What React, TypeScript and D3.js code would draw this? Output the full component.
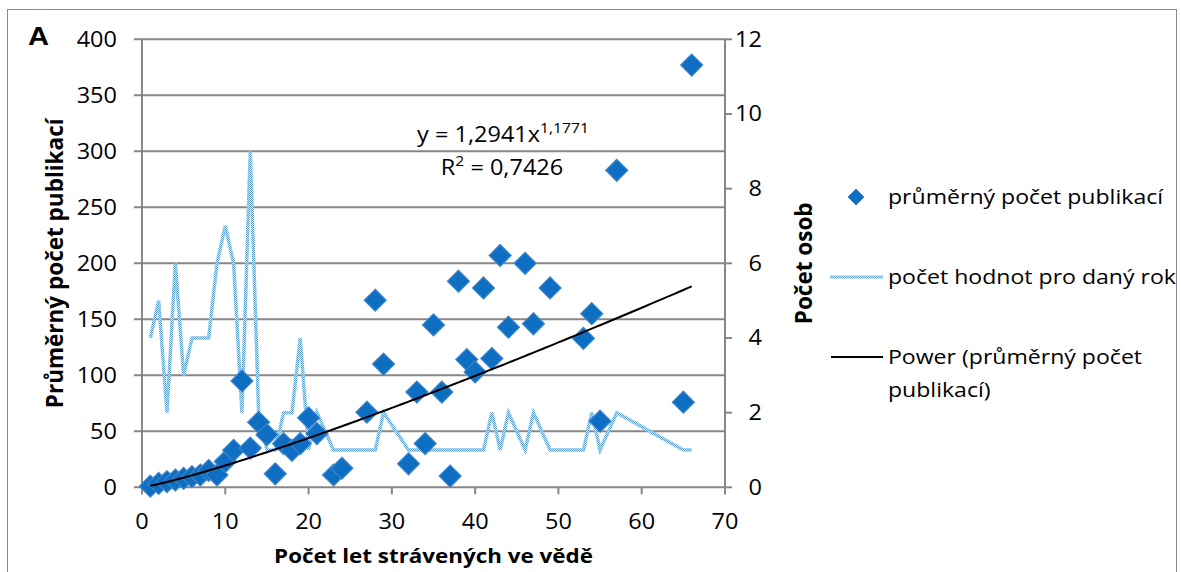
import React from 'react';
import * as d3 from 'd3';

const WIDTH = 1181;
const HEIGHT = 572;

// plot area in pixels
const PLOT = { left: 142, right: 725, top: 39.3, bottom: 487.3 };

const FONT = "'Open Sans', 'Noto Sans', sans-serif";
const FS = 21;
const STRETCH = 1.12; // the original picture is a little wider than tall

// years spent in science
const years = [
  1, 2, 3, 4, 5, 6, 7, 8, 9, 10, 11, 12, 13, 14, 15, 16, 17, 18, 19, 20, 21, 23, 24, 27,
  28, 29, 32, 33, 34, 35, 36, 37, 38, 39, 40, 41, 42, 43, 44, 46, 47, 49, 53, 54, 55, 57, 65, 66,
];

// mean number of publications (left axis)
const publications = [
  1, 3.5, 5, 6.5, 8, 9.5, 11, 15, 11, 23, 33, 95, 35, 58, 47, 12, 39, 33, 39, 62, 48, 11, 17, 67,
  167, 110, 21, 85, 39, 145, 85, 10, 184, 114, 103, 178, 115, 207, 143, 200, 146, 178, 133, 155, 59, 283, 76, 377,
];

// number of persons for the year (right axis)
const persons = [
  4, 5, 2, 6, 3, 4, 4, 4, 6, 7, 6, 2, 9, 2, 1, 1, 2, 2, 4, 1, 2, 1, 1, 1,
  1, 2, 1, 1, 1, 1, 1, 1, 1, 1, 1, 1, 2, 1, 2, 1, 2, 1, 1, 2, 1, 2, 1, 1,
];

const xTicks = [0, 10, 20, 30, 40, 50, 60, 70];
const leftTicks = [0, 50, 100, 150, 200, 250, 300, 350, 400];
const rightTicks = [0, 2, 4, 6, 8, 10, 12];

// power trendline fitted in the original
const POWER_A = 1.2941;
const POWER_B = 1.1771;

const GRID = '#878787';
const BLUE = '#0E6EC1';

const diamond = (cx: number, cy: number, r: number) =>
  `M${cx},${cy - r}L${cx + r},${cy}L${cx},${cy + r}L${cx - r},${cy}Z`;

// horizontal text, widened like the source image
const T = ({ x, y, anchor = 'start', bold = false, size = FS, mid = true, children }: any) => (
  <text
    transform={`translate(${x},${y}) scale(${STRETCH},1)`}
    textAnchor={anchor}
    dy={mid ? '0.35em' : undefined}
    fontSize={size}
    fontWeight={bold ? 'bold' : undefined}
  >
    {children}
  </text>
);

export default function App() {
  const x = d3.scaleLinear().domain([0, 70]).range([PLOT.left, PLOT.right]);
  const y = d3.scaleLinear().domain([0, 400]).range([PLOT.bottom, PLOT.top]);
  const yR = d3.scaleLinear().domain([0, 12]).range([PLOT.bottom, PLOT.top]);

  const points = years.map((yr, i) => ({ yr, pub: publications[i], n: persons[i] }));

  const countLine = d3.line<{ yr: number; n: number }>()
    .x(d => x(d.yr))
    .y(d => yR(d.n));

  const trend = d3.range(1, 66.001, 0.5).map(v => [v, POWER_A * Math.pow(v, POWER_B)]);
  const trendLine = d3.line<number[]>()
    .x(d => x(d[0]))
    .y(d => y(d[1]));

  const midY = (PLOT.top + PLOT.bottom) / 2;

  return (
    <svg width={WIDTH} height={HEIGHT} style={{ position: 'absolute', left: 0, top: 0 }} fontFamily={FONT}>
      <defs>
        <pattern id="dots" width="2" height="2" patternUnits="userSpaceOnUse">
          <rect width="2" height="2" fill="#DCEBF8" />
          <rect width="1" height="1" fill="#5A9BDB" />
          <rect x="1" y="1" width="1" height="1" fill="#5A9BDB" />
        </pattern>
      </defs>
      <rect x={7.5} y={9.5} width={1169} height={620} fill="#fff" stroke="#8a8a8a" strokeWidth={1} />

      <text transform={`translate(28,45) scale(${STRETCH},1)`} fontFamily="'Liberation Sans', Arial, sans-serif" fontWeight="bold" fontSize={26}>A</text>

      {/* gridlines + left ticks */}
      {leftTicks.map(t => (
        <g key={t}>
          <line x1={PLOT.left - 8} x2={PLOT.right} y1={y(t)} y2={y(t)} stroke={GRID} strokeWidth={2} />
          <T x={117} y={y(t)} anchor="end">{t}</T>
        </g>
      ))}

      {/* axes */}
      <line x1={PLOT.left} x2={PLOT.left} y1={PLOT.top} y2={PLOT.bottom + 7} stroke={GRID} strokeWidth={2} />
      <line x1={PLOT.right} x2={PLOT.right} y1={PLOT.top} y2={PLOT.bottom + 7} stroke={GRID} strokeWidth={2} />

      {xTicks.map(t => (
        <g key={t}>
          <line x1={x(t)} x2={x(t)} y1={PLOT.bottom} y2={PLOT.bottom + 7} stroke={GRID} strokeWidth={2} />
          <T x={x(t)} y={522} anchor="middle">{t}</T>
        </g>
      ))}

      {rightTicks.map(t => (
        <g key={t}>
          <line x1={PLOT.right} x2={PLOT.right + 7} y1={yR(t)} y2={yR(t)} stroke={GRID} strokeWidth={2} />
          <T x={762} y={yR(t)} anchor="end">{t}</T>
        </g>
      ))}

      {/* count per year */}
      <path d={countLine(points) || ''} fill="none" stroke="url(#dots)" strokeWidth={3.5} />

      {/* mean publications */}
      {points.map(p => (
        <path key={p.yr} d={diamond(x(p.yr), y(p.pub), 11)} fill={BLUE} stroke="#3D84CB" strokeWidth={1.2} />
      ))}

      {/* power trendline */}
      <path d={trendLine(trend) || ''} fill="none" stroke="#000" strokeWidth={2} />

      <T x={503} y={142} anchor="middle" mid={false}>
        y = 1,2941x<tspan dy={-9} fontSize={14}>1,1771</tspan>
      </T>
      <T x={502} y={175} anchor="middle" mid={false}>
        R<tspan dy={-9} fontSize={14}>2</tspan><tspan dy={9}> = 0,7426</tspan>
      </T>

      {/* axis titles */}
      <text transform={`translate(63,${midY}) rotate(-90)`} textAnchor="middle" fontSize={22.5} fontWeight="bold">
        Průměrný počet publikací
      </text>
      <text transform={`translate(812,${midY}) rotate(-90)`} textAnchor="middle" fontSize={22.5} fontWeight="bold">
        Počet osob
      </text>
      <T x={(PLOT.left + PLOT.right) / 2} y={563} anchor="middle" bold size={20} mid={false}>
        Počet let strávených ve vědě
      </T>

      {/* legend */}
      <path d={diamond(856, 197, 8)} fill={BLUE} stroke="#3D84CB" strokeWidth={1} />
      <T x={888} y={197} size={20.6}>průměrný počet publikací</T>

      <line x1={830} x2={883} y1={277} y2={277} stroke="url(#dots)" strokeWidth={3} />
      <T x={888} y={277} size={20.6}>počet hodnot pro daný rok</T>

      <line x1={831} x2={883} y1={357} y2={357} stroke="#000" strokeWidth={2} />
      <T x={888} y={357} size={20.6}>Power (průměrný počet</T>
      <T x={888} y={390} size={20.6}>publikací)</T>
    </svg>
  );
}
